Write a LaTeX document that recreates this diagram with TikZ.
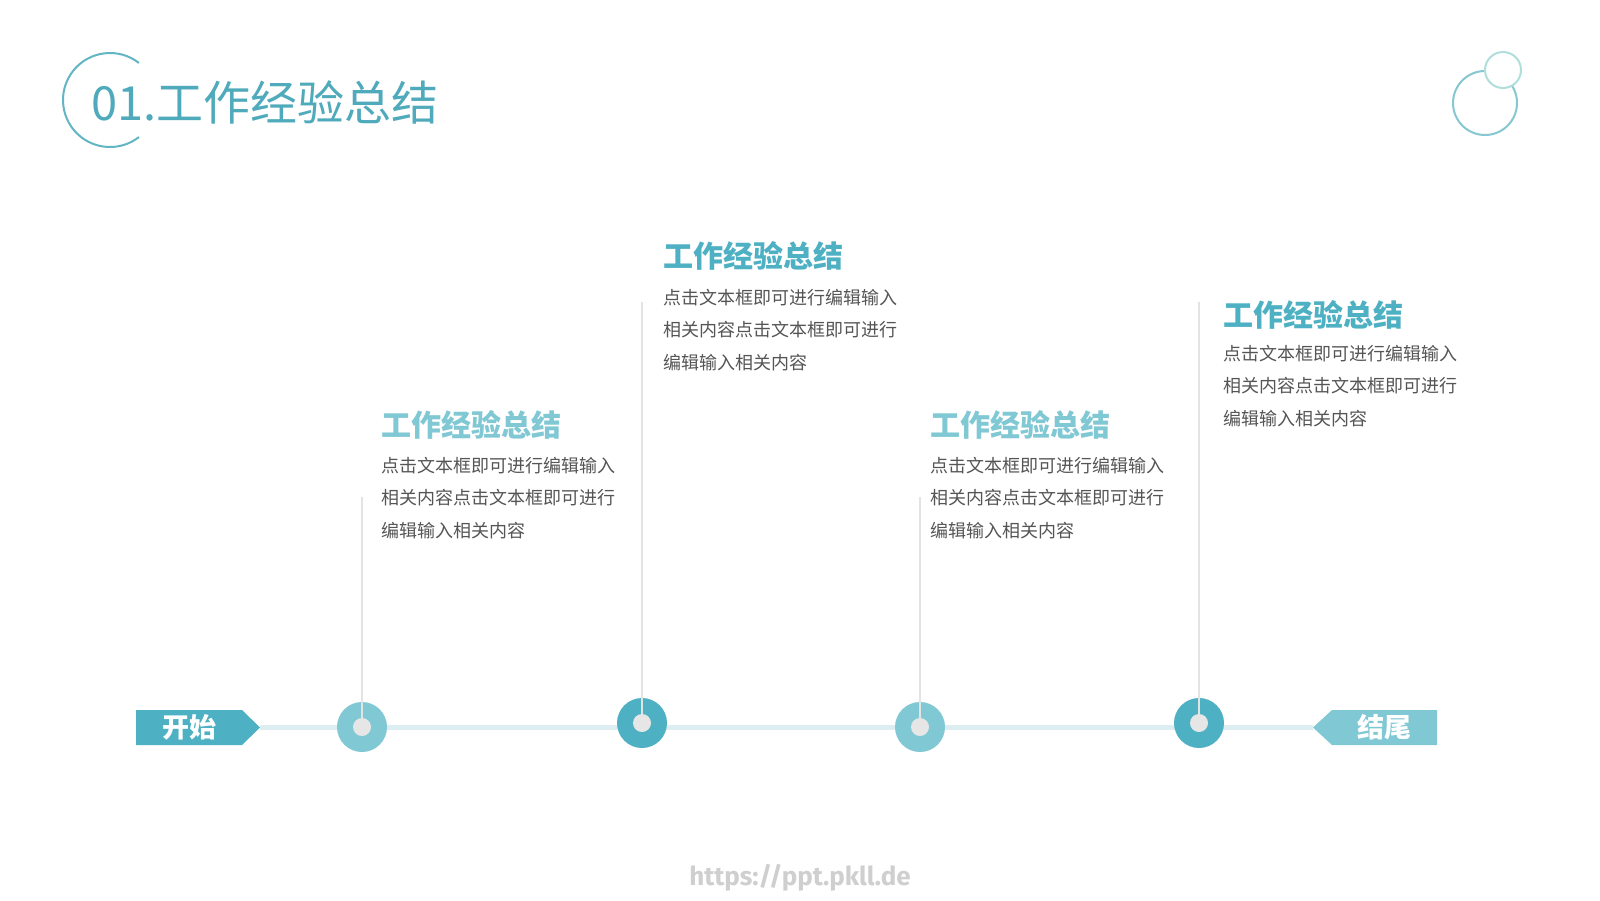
\documentclass[tikz,border=0pt]{standalone}
\usepackage{fontspec}
\setmainfont{Noto Sans CJK SC}
\newfontfamily\wmfont{Fira Sans}
\definecolor{tealD}{HTML}{4DB0C3}
\definecolor{tealL}{HTML}{80C8D3}
\definecolor{titleC}{HTML}{4FAABB}
\definecolor{arcC}{HTML}{62B6C4}
\definecolor{stemC}{HTML}{E3E3E3}
\definecolor{railC}{HTML}{DDEEF2}
\definecolor{bodyC}{HTML}{555555}
\definecolor{dotC}{HTML}{E6E6E6}
\definecolor{ringA}{HTML}{86C7D0}
\definecolor{ringB}{HTML}{B0DEDB}
\definecolor{wmC}{HTML}{CFCFCF}
\tikzset{
  headtxt/.style={anchor=base west, inner sep=0pt, font=\fontsize{30}{30}\selectfont\bfseries},
  bodytxt/.style={anchor=base west, inner sep=0pt, align=left, text=bodyC, font=\fontsize{18}{32.5}\selectfont},
  dotnode/.style={circle, minimum size=50pt, inner sep=0pt},
  innerdot/.style={circle, fill=dotC, minimum size=18pt, inner sep=0pt},
  stemline/.style={draw=stemC, line width=2pt},
  bannertxt/.style={inner sep=0pt, text=white, font=\fontsize{27}{27}\selectfont\bfseries}
}
\begin{document}
\begin{tikzpicture}[x=1pt,y=-1pt]
\useasboundingbox (0,0) rectangle (1600,900);
\fill[white] (0,0) rectangle (1600,900);

% title
\draw[arcC, line width=2pt] (110,100) ++(52:47pt) arc[start angle=52, end angle=308, radius=47pt];
\node[anchor=west, inner sep=0pt, text=titleC, font=\fontsize{47}{47}\selectfont] (title) at (91,102) {01.工作经验总结};

% top-right rings
\draw[ringA, line width=2pt] (1485,103) circle[radius=32pt];
\draw[ringB, line width=2pt, fill=white] (1503,70) circle[radius=18pt];

% banners
\fill[tealD] (136,710) -- (242,710) -- (260,727.5) -- (242,745) -- (136,745) -- cycle;
\coordinate (startTip) at (260,727.5);
\node[bannertxt] (startL) at (189,727.5) {开始};
\fill[tealL] (1437,710) -- (1332,710) -- (1313,727.5) -- (1332,745) -- (1437,745) -- cycle;
\coordinate (endTip) at (1313,727.5);
\node[bannertxt] (endL) at (1384,727.5) {结尾};

% rail
\draw[railC, line width=5pt] (startTip) -- (endTip);

% timeline dots
\node[dotnode, fill=tealL] (c1) at (362,727) {};
\node[dotnode, fill=tealD] (c2) at (642,723) {};
\node[dotnode, fill=tealL] (c3) at (920,727) {};
\node[dotnode, fill=tealD] (c4) at (1199,723) {};

% stems
\coordinate (s1) at (362,497);
\coordinate (s2) at (642,302);
\coordinate (s3) at (920,497);
\coordinate (s4) at (1199,302);
\draw[stemline] (s1) -- (c1.center);
\draw[stemline] (s2) -- (c2.center);
\draw[stemline] (s3) -- (c3.center);
\draw[stemline] (s4) -- (c4.center);

\node[innerdot] (d1) at (c1.center) {};
\node[innerdot] (d2) at (c2.center) {};
\node[innerdot] (d3) at (c3.center) {};
\node[innerdot] (d4) at (c4.center) {};

% text blocks (body anchored at baseline of its last line)
\node[headtxt, text=tealL] (h1) at (381,436) {工作经验总结};
\node[bodytxt] (b1) at (381,537) {点击文本框即可进行编辑输入\\相关内容点击文本框即可进行\\编辑输入相关内容};

\node[headtxt, text=tealD] (h2) at (663,267) {工作经验总结};
\node[bodytxt] (b2) at (663,369) {点击文本框即可进行编辑输入\\相关内容点击文本框即可进行\\编辑输入相关内容};

\node[headtxt, text=tealL] (h3) at (930,436) {工作经验总结};
\node[bodytxt] (b3) at (930,537) {点击文本框即可进行编辑输入\\相关内容点击文本框即可进行\\编辑输入相关内容};

\node[headtxt, text=tealD] (h4) at (1223,326) {工作经验总结};
\node[bodytxt] (b4) at (1223,425) {点击文本框即可进行编辑输入\\相关内容点击文本框即可进行\\编辑输入相关内容};

% watermark
\node[inner sep=0pt, text=wmC, font=\wmfont\fontsize{26}{26}\selectfont\bfseries] (wm) at (800,878) {https://ppt.pkll.de};
\end{tikzpicture}
\end{document}
